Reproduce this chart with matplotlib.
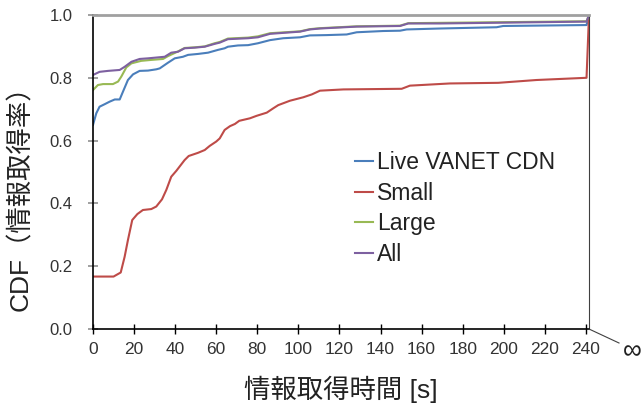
import matplotlib
matplotlib.use('Agg')
import matplotlib.pyplot as plt
from matplotlib.lines import Line2D

plt.rcParams['font.family'] = ['Liberation Sans', 'Noto Sans CJK JP', 'DejaVu Sans']

# x = 241.5 stands for the "infinity" point at the right edge
live_x = [0, 1.6, 3.2, 5.7, 8.1, 10.6, 13, 14.6, 17, 19.5, 22.7, 26.8, 30.8, 32.5, 36.5, 39.8,
          43.8, 46.3, 51.1, 56, 60.9, 64.1, 65.7, 70.6, 75.5, 80.3, 86.2, 92.6, 100.8, 105.6,
          113.8, 123.5, 128.4, 141.3, 149.5, 152.7, 169, 196.5, 199.7, 240.3, 241.5]
live_y = [0.650, 0.687, 0.708, 0.716, 0.724, 0.731, 0.731, 0.756, 0.793, 0.811, 0.822, 0.823,
          0.827, 0.830, 0.848, 0.862, 0.867, 0.873, 0.876, 0.880, 0.889, 0.894, 0.899, 0.903,
          0.904, 0.910, 0.920, 0.926, 0.929, 0.935, 0.936, 0.938, 0.945, 0.949, 0.950, 0.954,
          0.957, 0.961, 0.965, 0.968, 1.0]

small_x = [0, 10, 13.5, 15.4, 17, 19.1, 21.6, 24.3, 28.4, 30.8, 33.6, 35.7, 38.1, 40.6, 44.6,
           46.6, 51.1, 54.4, 56.8, 60, 61.7, 64.1, 66.7, 69.1, 71.2, 76.4, 79.7, 84.6, 87.8,
           90.2, 95.9, 102.4, 106.5, 110.5, 121.9, 150.3, 154.3, 173.8, 197.3, 216, 240.3, 241.5]
small_y = [0.167, 0.167, 0.18, 0.23, 0.283, 0.347, 0.366, 0.379, 0.382, 0.39, 0.413, 0.443,
           0.485, 0.504, 0.538, 0.551, 0.561, 0.570, 0.583, 0.597, 0.607, 0.634, 0.646, 0.653,
           0.663, 0.671, 0.679, 0.689, 0.703, 0.713, 0.727, 0.738, 0.747, 0.759, 0.763, 0.765,
           0.775, 0.782, 0.784, 0.793, 0.800, 1.0]

large_x = [0, 2.4, 4.9, 9.7, 12.2, 13.8, 16.2, 18.7, 23.5, 28.4, 34.1, 36.5, 41.4, 44.6, 49.5,
           54.4, 59.2, 61.7, 65.7, 75.5, 80.3, 86.2, 100.8, 105.6, 110.5, 128.4, 149.5, 153.5,
           169, 240.3, 241.5]
large_y = [0.761, 0.777, 0.780, 0.780, 0.788, 0.804, 0.833, 0.846, 0.854, 0.857, 0.860, 0.869,
           0.884, 0.895, 0.897, 0.900, 0.910, 0.914, 0.925, 0.928, 0.932, 0.942, 0.948, 0.955,
           0.958, 0.964, 0.966, 0.974, 0.975, 0.980, 1.0]

all_x = [0, 3.2, 7.3, 13, 15.4, 18.7, 22.7, 26.8, 34.9, 38.1, 41.4, 44.6, 49.5, 54.4, 59.2,
         61.7, 65.7, 75.5, 80.3, 86.2, 100.8, 105.6, 110.5, 128.4, 149.5, 153.5, 169, 240.3, 241.5]
all_y = [0.809, 0.819, 0.822, 0.825, 0.835, 0.851, 0.860, 0.862, 0.867, 0.880, 0.883, 0.894,
         0.896, 0.899, 0.908, 0.912, 0.923, 0.926, 0.929, 0.940, 0.947, 0.954, 0.957, 0.963,
         0.965, 0.973, 0.973, 0.979, 1.0]

series = [
    ('Live VANET CDN', live_x, live_y, '#4A7EBB'),
    ('Small', small_x, small_y, '#BE4B48'),
    ('Large', large_x, large_y, '#98B954'),
    ('All', all_x, all_y, '#7D60A0'),
]

x_ticks = list(range(0, 241, 20))
y_ticks = [0.0, 0.2, 0.4, 0.6, 0.8, 1.0]

fig = plt.figure(figsize=(6.44, 4.07), dpi=100)
ax = fig.add_axes([93 / 644, 1 - 329 / 407, 496 / 644, 314 / 407])

for name, xs, ys, col in series:
    ax.plot(xs, ys, color=col, lw=1.5, label=name)

ax.set_xlim(0, 241.5)
ax.set_ylim(0, 1.0)
ax.set_xticks(x_ticks)
ax.set_yticks(y_ticks)
ax.set_yticklabels(['%.1f' % v for v in y_ticks])

ax.spines['left'].set_color('black')
ax.spines['bottom'].set_color('black')
ax.spines['right'].set_color('#404040')
ax.spines['top'].set_color('#a0a0a0')
ax.spines['top'].set_linewidth(2.0)
ax.spines['left'].set_linewidth(1.2)
ax.spines['bottom'].set_linewidth(1.2)

ax.tick_params(axis='y', direction='inout', length=7, width=1.2, color='#909090',
               labelsize=12, labelcolor='#333333', pad=11)
ax.tick_params(axis='x', direction='inout', length=7, width=1.0, color='black',
               labelsize=12.5, labelcolor='#333333', pad=6)

ax.set_xlabel('情報取得時間 [s]', fontsize=19, color='#222222', labelpad=13)
ax.set_ylabel('CDF（情報取得率）', fontsize=19, color='#222222')
ax.yaxis.set_label_coords(-0.121, 0.436)

leg = ax.legend(loc='upper left', bbox_to_anchor=(0.528, 0.567), frameon=False,
                fontsize=16.5, handlelength=0.8, handletextpad=0.15, borderpad=0,
                borderaxespad=0, labelspacing=0.33)
for t in leg.get_texts():
    t.set_color('#222222')

# infinity marker off the right end of the x axis
fig.add_artist(Line2D([589 / 644, 619 / 644], [1 - 329 / 407, 1 - 343 / 407],
                      color='#404040', lw=0.8))
fig.text(632 / 644, 1 - 351 / 407, '∞', fontsize=19, ha='center', va='center',
         color='#222222', family='Liberation Sans')

fig.savefig('out.png', dpi=100)
